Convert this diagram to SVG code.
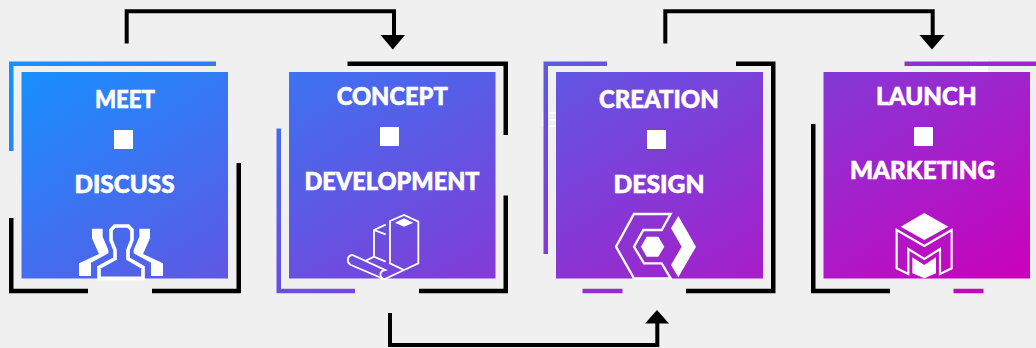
<svg xmlns="http://www.w3.org/2000/svg" width="1036" height="348" viewBox="0 0 1036 348">
<style>
.lbl{font-family:"Lato","Liberation Sans",sans-serif;font-weight:900;font-size:24px;fill:#fff;stroke:#fff;stroke-width:.6px;text-anchor:start}
.k{fill:none;stroke:#000;stroke-width:4.5}
.g{fill:none;stroke:url(#grad);stroke-width:4.5}
.box{fill:url(#grad)}
.sq{fill:#fff}
.is{fill:none;stroke:#fff;stroke-linejoin:miter}
.if{fill:#fff}
.c{fill:none;stroke:#000;stroke-width:4}
</style>
<defs>
<linearGradient id="grad" gradientUnits="userSpaceOnUse" x1="21" y1="72" x2="397" y2="674">
<stop offset="0" stop-color="#1890ff"/>
<stop offset="1" stop-color="#cc00bb"/>
</linearGradient>
</defs>
<rect width="1036" height="348" fill="#f0f0f0"/>
<rect x="970" y="60" width="18" height="12" fill="#fff"/>
<path d="M542 112h1.5v15H542zM549 112h7v2h-7zM549 119h7v2h-7zM549 125h7v2h-7z" fill="#fff" opacity=".75"/>

<g id="connectors">
<path class="c" d="M126.7 43.5V11.3H394V37"/>
<path d="M380.5 35H405L392.8 49.5z"/>
<path class="c" d="M665.3 43.5V11.3H932.7V37"/>
<path d="M919.5 35H944.5L932 49.5z"/>
<path class="c" d="M390 313V345H657.3V322"/>
<path d="M645 323.5H669L657 310z"/>
</g>

<g id="node-meet">
<path class="g" d="M216 63.75H11.25V151"/>
<path class="k" d="M11.25 218V291H88"/>
<path class="k" d="M152 291H238.75V163"/>
<rect class="box" x="21.5" y="72" width="206.5" height="206.5"/>
<text class="lbl" x="95" y="108" textLength="60" lengthAdjust="spacingAndGlyphs">MEET</text>
<rect class="sq" x="114" y="130" width="19" height="19"/>
<text class="lbl" x="74.5" y="193.3" textLength="100" lengthAdjust="spacingAndGlyphs">DISCUSS</text>
<g transform="translate(0,50) scale(.33333)">
<path class="is" stroke-width="11" d="M297 685V652L345 626V600L333 570V540L344 528H385L396 540V570L384 600V626L429 652V685Z"/>
<path class="if" d="M276 536H308V560L325 600V610L273 638V678H237V640L297 612L285 585L276 565Z"/>
<path class="if" d="M450 536H418V560L401 600V610L453 638V678H489V640L429 612L441 585L450 565Z"/>
</g>
</g>

<g id="node-concept">
<path class="k" d="M347.5 63.75H505.75V135"/>
<path class="k" d="M505.75 195.5V291H419"/>
<path class="g" d="M278.75 128.5V291H355"/>
<rect class="box" x="289" y="72" width="206.5" height="206.5"/>
<text class="lbl" x="336.7" y="105" textLength="111" lengthAdjust="spacingAndGlyphs">CONCEPT</text>
<rect class="sq" x="380" y="127" width="19" height="19"/>
<text class="lbl" x="304.5" y="190" textLength="175" lengthAdjust="spacingAndGlyphs">DEVELOPMENT</text>
<g transform="translate(265,50) scale(.33333)">
<path class="is" stroke-width="5.5" d="M375 513L417 495L460 515V640L417 660L375 640Z"/>
<path class="if" d="M390 518L417 505L445 518L417 530Z"/>
<path class="is" stroke-width="5.5" d="M362 524L327 540V620M327 540L362 553M303 632L327 620L362 635"/>
<path class="is" stroke-width="5.5" d="M417 660L358 688L258 645C243 637 247 616 262 615L360 660C342 664 342 680 358 688"/>
</g>
</g>

<g id="node-creation">
<path class="g" d="M607 63.75H545.75V254"/>
<path class="k" d="M736 63.75H773.25V291H686"/>
<path class="g" d="M582.5 291H622.5"/>
<rect class="box" x="556" y="72" width="207" height="206.5"/>
<text class="lbl" x="599" y="108" textLength="119.7" lengthAdjust="spacingAndGlyphs">CREATION</text>
<rect class="sq" x="647" y="130" width="19" height="19"/>
<text class="lbl" x="613.5" y="193" textLength="91" lengthAdjust="spacingAndGlyphs">DESIGN</text>
<g transform="translate(530,50) scale(.33333)">
<path class="is" stroke-width="7" d="M422 492H312L258 590L312 685H422L395 640H342L312 590L340 540H395Z"/>
<path class="if" d="M350 560H385L403 590L385 620H350L333 590Z"/>
<path class="if" d="M445 498L498 590L445 682L423 645L455 590L423 535Z"/>
</g>
</g>

<g id="node-launch">
<path class="g" d="M904.5 63.75H1036"/>
<path class="k" d="M813.25 124V291H890"/>
<path class="g" d="M953.5 291H983.5"/>
<rect class="box" x="823.5" y="72" width="206.5" height="206.5"/>
<text class="lbl" x="876" y="105" textLength="100.7" lengthAdjust="spacingAndGlyphs">LAUNCH</text>
<rect class="sq" x="914" y="127" width="19" height="19"/>
<text class="lbl" x="850" y="179.3" textLength="145" lengthAdjust="spacingAndGlyphs">MARKETING</text>
<g transform="translate(790,50) scale(.33333)">
<path class="if" d="M403 489L475 530L403 570L332 530Z"/>
<path class="is" stroke-width="6.5" d="M320 540L403 588L485 540V655L450 672V597L403 627L355 597V672L320 655Z"/>
<path class="if" d="M367 622L403 645L438 622V670L403 685L367 670Z"/>
</g>
</g>
</svg>
